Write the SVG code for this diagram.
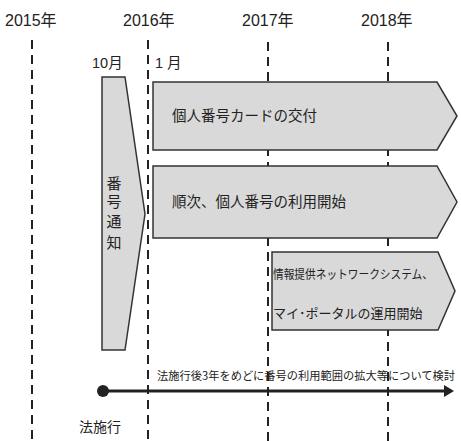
<svg xmlns="http://www.w3.org/2000/svg" width="461" height="441" viewBox="0 0 461 441">
<style>
text{font-family:"Liberation Sans","Noto Sans CJK JP",sans-serif;fill:#222}
.jp{font-family:"Noto Sans CJK JP",sans-serif}
.dash{stroke:#222;stroke-width:2;stroke-dasharray:9 6;fill:none}
.box{fill:#d9d9d9;stroke:#333;stroke-width:1.5}
</style>
<rect width="461" height="441" fill="#fff"/>
<g id="years" font-size="16">
<text x="5" y="26">2015年</text>
<text x="123" y="26">2016年</text>
<text x="242" y="26">2017年</text>
<text x="361" y="26">2018年</text>
</g>
<g id="gridlines">
<line class="dash" x1="32" y1="40" x2="32" y2="441"/>
<line class="dash" x1="148" y1="40" x2="148" y2="441"/>
<line class="dash" x1="268" y1="42" x2="268" y2="441"/>
<line class="dash" x1="388" y1="42" x2="388" y2="441"/>
</g>
<g id="months" font-size="14.5">
<text x="92" y="68">10月</text>
<text x="155" y="68">1 月</text>
</g>
<g id="notice">
<polygon class="box" points="102,77 125,77 145,214 125,350 102,350"/>
<g class="jp" font-size="15" text-anchor="middle">
<text x="114" y="189">番</text>
<text x="114" y="207">号</text>
<text x="114" y="227">通</text>
<text x="114" y="248">知</text>
</g>
</g>
<g id="card">
<polygon class="box" points="153,82 437,82 457,116 437,150 153,150"/>
<text class="jp" x="172" y="121" font-size="14.5">個人番号カードの交付</text>
</g>
<g id="use">
<polygon class="box" points="153,166 437,166 457,202 437,238 153,238"/>
<text class="jp" x="172" y="207" font-size="14.5">順次、個人番号の利用開始</text>
</g>
<g id="network">
<polygon class="box" points="272,252 438,252 455,291 438,330 272,330"/>
<text class="jp" x="273" y="279" font-size="12" textLength="160" lengthAdjust="spacingAndGlyphs">情報提供ネットワークシステム、</text>
<text class="jp" x="273" y="318" font-size="13">マイ･ポータルの運用開始</text>
</g>
<g id="connectors">
<line x1="103" y1="391" x2="446" y2="391" stroke="#222" stroke-width="3"/>
<polygon points="454,391 444,385 444,397" fill="#222"/>
<circle cx="103" cy="391" r="6" fill="#222"/>
</g>
<g id="review">
<text class="jp" x="157" y="380" font-size="11.3" textLength="298" lengthAdjust="spacingAndGlyphs">法施行後3年をめどに番号の利用範囲の拡大等について検討</text>
</g>
<g id="enforce">
<text class="jp" x="79" y="432" font-size="14">法施行</text>
</g>
</svg>
